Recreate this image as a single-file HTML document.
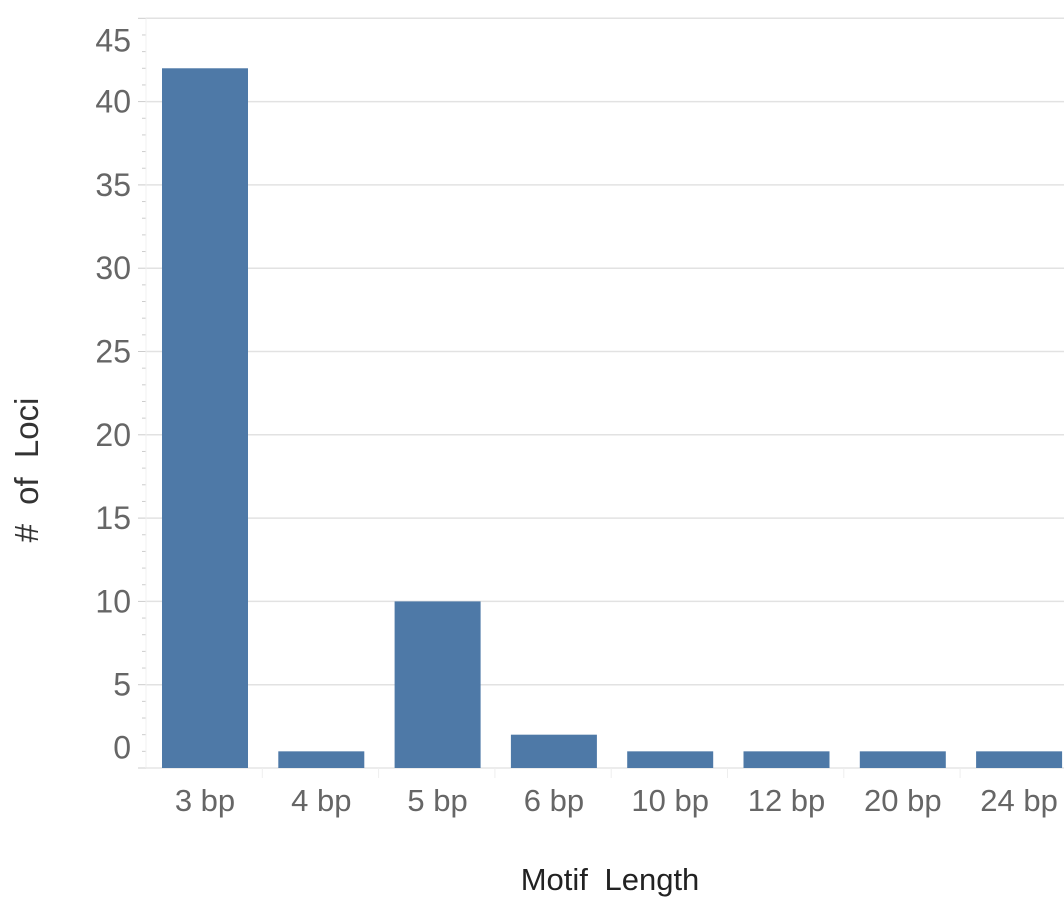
<!DOCTYPE html>
<html><head><meta charset="utf-8"><style>
body{margin:0;background:#fff;width:1064px;height:918px;overflow:hidden;font-family:"Liberation Sans",sans-serif}
</style></head><body>
<svg id="chart" width="1064" height="918">
<text x="38" y="470" transform="rotate(-90 38 470)" text-anchor="middle" font-size="33" fill="#333" style="word-spacing:10px"># of Loci</text>
<text x="610" y="890" text-anchor="middle" font-size="31" fill="#222" style="word-spacing:8px">Motif Length</text>
</svg>
<script>
const categories=["3 bp","4 bp","5 bp","6 bp","10 bp","12 bp","20 bp","24 bp"];
const values=[42,1,10,2,1,1,1,1];
const yTicks=[5,10,15,20,25,30,35,40,45];
const NS="http://www.w3.org/2000/svg";
const svg=document.getElementById('chart');
const left=146,slot=116.3,y0=768,ppu=16.66;
const y=v=>y0-v*ppu;
const x=i=>left+i*slot;
function mk(t,a){const e=document.createElementNS(NS,t);for(const k in a)e.setAttribute(k,a[k]);svg.appendChild(e);return e;}
yTicks.forEach(v=>{
 const g=mk('line',{x1:left,x2:1064,y1:y(v),y2:y(v),stroke:'#e2e2e2','stroke-width':1.5});
 
 
 const ly=v===45?y(v)+22:y(v);
 const t=mk('text',{x:131,y:ly+11,'text-anchor':'end','font-size':32,fill:'#666'});
 t.textContent=v;
 
 
});
const z=mk('text',{x:131,y:y(1)+7,'text-anchor':'end','font-size':32,fill:'#666'});
z.textContent='0';


for(let v=0;v<=45;v++){
 const m=mk('line',{x1:v%5==0?138:142,x2:146,y1:y(v),y2:y(v),stroke:'#ccc','stroke-width':1});
 
 
}
mk('line',{x1:left,x2:left,y1:y(45),y2:y0,stroke:'#f0f0f0'});
mk('line',{x1:left,x2:1064,y1:y0,y2:y0,stroke:'#e6e6e6','stroke-width':1.5});
categories.forEach((c,i)=>{
 const b=mk('rect',{x:x(i)+16,y:y(values[i]),width:86,height:values[i]*ppu,fill:'#4e79a7'});
 
 
 if(i>0){const tk=mk('line',{x1:x(i),x2:x(i),y1:y0,y2:y0+10,stroke:'#eee'});
 
 }
 const t=mk('text',{x:x(i)+59,y:811,'text-anchor':'middle','font-size':31,fill:'#666'});
 t.textContent=c;
 
 
});
</script>
</body></html>
